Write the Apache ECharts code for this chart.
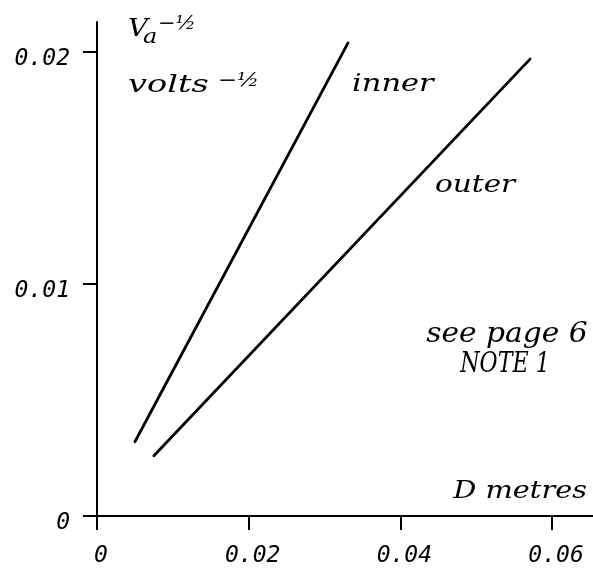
<!DOCTYPE html>
<html>
<head>
<meta charset="utf-8">
<script src="https://cdn.jsdelivr.net/npm/echarts@6/dist/echarts.min.js"></script>
<style>
  html, body { margin: 0; padding: 0; background: #fff; }
  #chart { width: 593px; height: 568px; }
</style>
</head>
<body>
<div id="chart"></div>
<script>
// D (metres) against Va^-1/2 (volts^-1/2) for the inner and outer electrodes
const innerD = [0.0050, 0.0331];
const innerV = [0.0032, 0.0204];
const outerD = [0.0075, 0.0571];
const outerV = [0.0026, 0.0197];

const xTicks = [0, 0.02, 0.04, 0.06];
const yTicks = [0, 0.01, 0.02];

const handFont = '"DejaVu Serif"';
const tickFont = '"DejaVu Sans Mono"';

function pairs(xs, ys) {
  return xs.map((x, i) => [x, ys[i]]);
}
function fmt(v) {
  return v === 0 ? '0' : v.toFixed(2);
}

const chart = echarts.init(document.getElementById('chart'));

// hand-lettered annotation, stretched horizontally by sx
function txt(text, x, y, size, align, sx) {
  return {
    type: 'text',
    x: x, y: y,
    scaleX: sx || 1,
    style: {
      text: text,
      fill: '#000',
      font: 'italic ' + size + 'px ' + handFont,
      textAlign: align || 'left',
      textVerticalAlign: 'middle'
    }
  };
}

chart.setOption({
  backgroundColor: '#fff',
  animation: false,
  grid: { left: 97, right: 0, top: 22, bottom: 51 },
  xAxis: {
    type: 'value',
    min: 0, max: 0.0654,
    splitLine: { show: false },
    axisLine: { onZero: false, lineStyle: { color: '#000', width: 2 } },
    axisTick: { show: true, customValues: xTicks, length: 14, inside: false,
                lineStyle: { color: '#000', width: 2 } },
    axisLabel: {
      customValues: xTicks,
      formatter: fmt,
      margin: 29,
      padding: [0, 0, 0, 8],
      color: '#000',
      fontFamily: tickFont,
      fontStyle: 'italic',
      fontSize: 23
    }
  },
  yAxis: {
    type: 'value',
    min: 0, max: 0.0213,
    splitLine: { show: false },
    axisLine: { show: true, onZero: false, lineStyle: { color: '#000', width: 2 } },
    axisTick: { show: true, customValues: yTicks, length: 14, inside: false,
                lineStyle: { color: '#000', width: 2 } },
    axisLabel: {
      customValues: yTicks,
      formatter: v => '{t|' + fmt(v) + '}',
      margin: 27,
      color: '#000',
      rich: {
        t: {
          fontFamily: tickFont,
          fontStyle: 'italic',
          fontSize: 23,
          color: '#000',
          padding: [14, 0, 0, 0]
        }
      }
    }
  },
  series: [
    {
      name: 'inner',
      type: 'line',
      data: pairs(innerD, innerV),
      showSymbol: false,
      lineStyle: { color: '#000', width: 2.8, cap: 'round' }
    },
    {
      name: 'outer',
      type: 'line',
      data: pairs(outerD, outerV),
      showSymbol: false,
      lineStyle: { color: '#000', width: 2.8, cap: 'round' }
    }
  ],
  graphic: [
    txt('V', 128, 29, 25, 'left', 1.1),
    txt('a', 143, 38, 20, 'left', 1.2),
    txt('\u2212\u00BD', 158, 24, 19, 'left', 1.1),
    txt('volts', 128, 86, 24, 'left', 1.4),
    txt('\u2212\u00BD', 218, 81, 19, 'left', 1.2),
    txt('inner', 352, 85, 24, 'left', 1.27),
    txt('outer', 435, 186, 24, 'left', 1.23),
    txt('see page 6', 507, 335, 27, 'center', 1.1),
    txt('NOTE 1', 505, 365, 27, 'center', 0.82),
    txt('D metres', 587, 492, 24, 'right', 1.2)
  ]
});
</script>
</body>
</html>
